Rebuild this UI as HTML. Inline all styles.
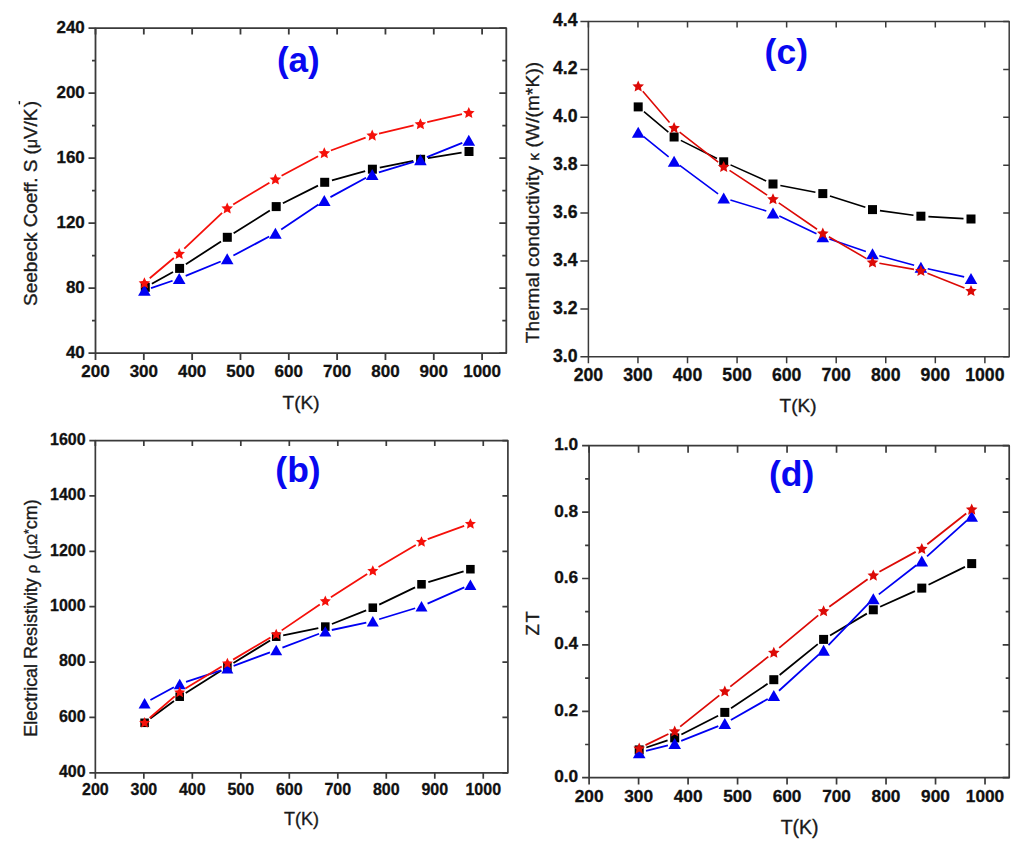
<!DOCTYPE html><html><head><meta charset="utf-8"><style>html,body{margin:0;padding:0;background:#fff}svg{display:block}.t{font-family:"Liberation Sans",sans-serif;font-weight:bold;fill:#111;stroke:#111;stroke-width:0.3px}.a{font-family:"Liberation Sans",sans-serif;fill:#1a1a1a;stroke:#1a1a1a;stroke-width:0.35px}.p{font-family:"Liberation Sans",sans-serif;font-weight:bold;fill:#0808f0}</style></head><body>
<svg width="1024" height="848" viewBox="0 0 1024 848">
<rect width="1024" height="848" fill="#fff"/>
<rect x="95.5" y="28.1" width="410.8" height="325.0" fill="none" stroke="#3a3a3a" stroke-width="1.8" stroke-linejoin="round"/>
<path d="M95.50,353.1v7M95.50,28.1v6.5M143.82,353.1v7M143.82,28.1v6.5M192.15,353.1v7M192.15,28.1v6.5M240.48,353.1v7M240.48,28.1v6.5M288.80,353.1v7M288.80,28.1v6.5M337.12,353.1v7M337.12,28.1v6.5M385.45,353.1v7M385.45,28.1v6.5M433.78,353.1v7M433.78,28.1v6.5M482.10,353.1v7M482.10,28.1v6.5M95.5,353.10h-7M506.3,353.10h-7M95.5,288.10h-7M506.3,288.10h-7M95.5,223.10h-7M506.3,223.10h-7M95.5,158.10h-7M506.3,158.10h-7M95.5,93.10h-7M506.3,93.10h-7M95.5,28.10h-7M506.3,28.10h-7M95.5,320.60h-3.5M506.3,320.60h-4M95.5,255.60h-3.5M506.3,255.60h-4M95.5,190.60h-3.5M506.3,190.60h-4M95.5,125.60h-3.5M506.3,125.60h-4M95.5,60.60h-3.5M506.3,60.60h-4" stroke="#3a3a3a" stroke-width="1.8" fill="none"/>
<text x="95.50" y="377.25" text-anchor="middle" class="t" font-size="17">200</text>
<text x="143.82" y="377.25" text-anchor="middle" class="t" font-size="17">300</text>
<text x="192.15" y="377.25" text-anchor="middle" class="t" font-size="17">400</text>
<text x="240.48" y="377.25" text-anchor="middle" class="t" font-size="17">500</text>
<text x="288.80" y="377.25" text-anchor="middle" class="t" font-size="17">600</text>
<text x="337.12" y="377.25" text-anchor="middle" class="t" font-size="17">700</text>
<text x="385.45" y="377.25" text-anchor="middle" class="t" font-size="17">800</text>
<text x="433.78" y="377.25" text-anchor="middle" class="t" font-size="17">900</text>
<text x="482.10" y="377.25" text-anchor="middle" class="t" font-size="17">1000</text>
<text x="84.8" y="357.85" text-anchor="end" class="t" font-size="17">40</text>
<text x="84.8" y="292.85" text-anchor="end" class="t" font-size="17">80</text>
<text x="84.8" y="227.85" text-anchor="end" class="t" font-size="17">120</text>
<text x="84.8" y="162.85" text-anchor="end" class="t" font-size="17">160</text>
<text x="84.8" y="97.85" text-anchor="end" class="t" font-size="17">200</text>
<text x="84.8" y="32.85" text-anchor="end" class="t" font-size="17">240</text>
<text x="301" y="408.6" text-anchor="middle" class="a" font-size="19">T(K)</text>
<text transform="translate(36.6,305.9) rotate(-90)" class="a" font-size="19" textLength="205.0" lengthAdjust="spacing">Seebeck Coeff. S (<tspan font-size="16">μ</tspan>V/K<tspan dx="1.5">)</tspan></text>
<path d="M19.4,101.6v2.2" stroke="#1a1a1a" stroke-width="1.4" stroke-linecap="round"/>
<text x="298.3" y="71.6" text-anchor="middle" class="p" font-size="35">(a)</text>
<path d="M151.87,283.68L173.03,272.02M185.88,264.30L221.02,241.40M233.65,233.31L269.85,210.59M282.91,203.24L317.99,185.66M331.93,180.31L365.17,171.19M379.75,167.69L413.25,160.81M428.00,158.11L461.60,152.69" stroke="#000" stroke-width="1.8" fill="none"/>
<path d="M151.03,288.05L172.57,280.75M185.68,275.84L220.72,261.46M233.39,255.53L269.21,236.57M281.21,229.40L318.49,204.40M330.45,197.15L366.05,177.75M378.90,172.37L413.70,161.83M426.89,157.17L462.31,142.83" stroke="#0000f2" stroke-width="1.8" fill="none"/>
<path d="M149.75,278.29L173.85,258.01M184.28,248.68L222.12,212.82M233.20,204.40L269.40,182.70M281.57,175.79L318.13,156.21M330.87,150.47L365.63,137.63M379.01,133.59L413.59,125.41M427.22,122.22L461.98,114.18" stroke="#f5100a" stroke-width="1.8" fill="none"/>
<rect x="140.80" y="282.80" width="9.0" height="9.0" fill="#000"/>
<rect x="175.10" y="263.90" width="9.0" height="9.0" fill="#000"/>
<rect x="222.80" y="232.80" width="9.0" height="9.0" fill="#000"/>
<rect x="271.70" y="202.10" width="9.0" height="9.0" fill="#000"/>
<rect x="320.20" y="177.80" width="9.0" height="9.0" fill="#000"/>
<rect x="367.90" y="164.70" width="9.0" height="9.0" fill="#000"/>
<rect x="416.10" y="154.80" width="9.0" height="9.0" fill="#000"/>
<rect x="464.50" y="147.00" width="9.0" height="9.0" fill="#000"/>
<polygon points="144.40,284.80 150.70,295.80 138.10,295.80" fill="#0000f2"/>
<polygon points="179.20,273.00 185.50,284.00 172.90,284.00" fill="#0000f2"/>
<polygon points="227.20,253.30 233.50,264.30 220.90,264.30" fill="#0000f2"/>
<polygon points="275.40,227.80 281.70,238.80 269.10,238.80" fill="#0000f2"/>
<polygon points="324.30,195.00 330.60,206.00 318.00,206.00" fill="#0000f2"/>
<polygon points="372.20,168.90 378.50,179.90 365.90,179.90" fill="#0000f2"/>
<polygon points="420.40,154.30 426.70,165.30 414.10,165.30" fill="#0000f2"/>
<polygon points="468.80,134.70 475.10,145.70 462.50,145.70" fill="#0000f2"/>
<polygon points="144.40,277.20 146.10,280.95 150.20,281.41 147.16,284.20 147.99,288.24 144.40,286.20 140.81,288.24 141.64,284.20 138.60,281.41 142.70,280.95" fill="#f5100a"/>
<polygon points="179.20,247.90 180.90,251.65 185.00,252.11 181.96,254.90 182.79,258.94 179.20,256.90 175.61,258.94 176.44,254.90 173.40,252.11 177.50,251.65" fill="#f5100a"/>
<polygon points="227.20,202.40 228.90,206.15 233.00,206.61 229.96,209.40 230.79,213.44 227.20,211.40 223.61,213.44 224.44,209.40 221.40,206.61 225.50,206.15" fill="#f5100a"/>
<polygon points="275.40,173.50 277.10,177.25 281.20,177.71 278.16,180.50 278.99,184.54 275.40,182.50 271.81,184.54 272.64,180.50 269.60,177.71 273.70,177.25" fill="#f5100a"/>
<polygon points="324.30,147.30 326.00,151.05 330.10,151.51 327.06,154.30 327.89,158.34 324.30,156.30 320.71,158.34 321.54,154.30 318.50,151.51 322.60,151.05" fill="#f5100a"/>
<polygon points="372.20,129.60 373.90,133.35 378.00,133.81 374.96,136.60 375.79,140.64 372.20,138.60 368.61,140.64 369.44,136.60 366.40,133.81 370.50,133.35" fill="#f5100a"/>
<polygon points="420.40,118.20 422.10,121.95 426.20,122.41 423.16,125.20 423.99,129.24 420.40,127.20 416.81,129.24 417.64,125.20 414.60,122.41 418.70,121.95" fill="#f5100a"/>
<polygon points="468.80,107.00 470.50,110.75 474.60,111.21 471.56,114.00 472.39,118.04 468.80,116.00 465.21,118.04 466.04,114.00 463.00,111.21 467.10,110.75" fill="#f5100a"/>
<rect x="95.35" y="440.6" width="412.54999999999995" height="332.19999999999993" fill="none" stroke="#3a3a3a" stroke-width="1.7" stroke-linejoin="round"/>
<path d="M95.35,772.8v6M95.35,440.6v5.5M143.84,772.8v6M143.84,440.6v5.5M192.33,772.8v6M192.33,440.6v5.5M240.82,772.8v6M240.82,440.6v5.5M289.31,772.8v6M289.31,440.6v5.5M337.80,772.8v6M337.80,440.6v5.5M386.29,772.8v6M386.29,440.6v5.5M434.78,772.8v6M434.78,440.6v5.5M483.27,772.8v6M483.27,440.6v5.5M95.35,772.80h-6M507.9,772.80h-5.5M95.35,717.43h-6M507.9,717.43h-5.5M95.35,662.07h-6M507.9,662.07h-5.5M95.35,606.70h-6M507.9,606.70h-5.5M95.35,551.33h-6M507.9,551.33h-5.5M95.35,495.97h-6M507.9,495.97h-5.5M95.35,440.60h-6M507.9,440.60h-5.5" stroke="#3a3a3a" stroke-width="1.7" fill="none"/>
<text x="95.35" y="795.1" text-anchor="middle" class="t" font-size="16">200</text>
<text x="143.84" y="795.1" text-anchor="middle" class="t" font-size="16">300</text>
<text x="192.33" y="795.1" text-anchor="middle" class="t" font-size="16">400</text>
<text x="240.82" y="795.1" text-anchor="middle" class="t" font-size="16">500</text>
<text x="289.31" y="795.1" text-anchor="middle" class="t" font-size="16">600</text>
<text x="337.80" y="795.1" text-anchor="middle" class="t" font-size="16">700</text>
<text x="386.29" y="795.1" text-anchor="middle" class="t" font-size="16">800</text>
<text x="434.78" y="795.1" text-anchor="middle" class="t" font-size="16">900</text>
<text x="483.27" y="795.1" text-anchor="middle" class="t" font-size="16">1000</text>
<text x="85.6" y="777.10" text-anchor="end" class="t" font-size="16">400</text>
<text x="85.6" y="721.73" text-anchor="end" class="t" font-size="16">600</text>
<text x="85.6" y="666.37" text-anchor="end" class="t" font-size="16">800</text>
<text x="85.6" y="611.00" text-anchor="end" class="t" font-size="16">1000</text>
<text x="85.6" y="555.63" text-anchor="end" class="t" font-size="16">1200</text>
<text x="85.6" y="500.27" text-anchor="end" class="t" font-size="16">1400</text>
<text x="85.6" y="444.90" text-anchor="end" class="t" font-size="16">1600</text>
<text x="301.5" y="824.5" text-anchor="middle" class="a" font-size="18">T(K)</text>
<text transform="translate(37.0,736.7) rotate(-90)" class="a" font-size="18" textLength="237.4" lengthAdjust="spacing">Electrical Resistivity <tspan font-size="15">ρ</tspan> (<tspan font-size="15">μΩ</tspan><tspan font-size="12" dy="-4">*</tspan><tspan dy="4">cm)</tspan></text>
<text x="298" y="482" text-anchor="middle" class="p" font-size="35.5">(b)</text>
<path d="M150.32,718.55L173.98,700.95M185.74,692.92L221.36,670.58M233.46,663.06L270.14,640.44M283.18,635.26L318.32,628.04M331.92,623.97L366.18,610.33M379.22,604.61L415.08,587.39M428.31,582.20L463.59,571.30" stroke="#000" stroke-width="1.8" fill="none"/>
<path d="M150.43,700.01L173.87,687.19M186.01,681.91L221.09,670.29M233.63,665.88L269.97,652.32M282.42,647.64L319.08,633.76M331.80,630.00L366.30,622.60M379.16,619.25L415.14,608.25M427.58,603.61L464.32,587.39" stroke="#0000f2" stroke-width="1.8" fill="none"/>
<path d="M149.63,718.05L174.67,696.35M185.38,688.55L221.72,666.45M233.12,659.61L270.48,637.49M281.70,630.37L319.80,604.53M330.91,597.22L367.19,574.08M378.51,567.10L415.79,544.90M427.74,539.20L464.16,525.80" stroke="#f5100a" stroke-width="1.8" fill="none"/>
<rect x="140.32" y="718.52" width="8.549999999999999" height="8.549999999999999" fill="#000"/>
<rect x="175.42" y="692.43" width="8.549999999999999" height="8.549999999999999" fill="#000"/>
<rect x="223.12" y="662.52" width="8.549999999999999" height="8.549999999999999" fill="#000"/>
<rect x="271.93" y="632.43" width="8.549999999999999" height="8.549999999999999" fill="#000"/>
<rect x="321.03" y="622.33" width="8.549999999999999" height="8.549999999999999" fill="#000"/>
<rect x="368.53" y="603.43" width="8.549999999999999" height="8.549999999999999" fill="#000"/>
<rect x="417.23" y="580.02" width="8.549999999999999" height="8.549999999999999" fill="#000"/>
<rect x="466.12" y="564.93" width="8.549999999999999" height="8.549999999999999" fill="#000"/>
<polygon points="144.60,697.98 150.58,708.43 138.62,708.43" fill="#0000f2"/>
<polygon points="179.70,678.77 185.69,689.23 173.71,689.23" fill="#0000f2"/>
<polygon points="227.40,662.98 233.38,673.43 221.42,673.43" fill="#0000f2"/>
<polygon points="276.20,644.77 282.19,655.23 270.21,655.23" fill="#0000f2"/>
<polygon points="325.30,626.17 331.29,636.62 319.31,636.62" fill="#0000f2"/>
<polygon points="372.80,615.98 378.79,626.43 366.81,626.43" fill="#0000f2"/>
<polygon points="421.50,601.07 427.49,611.52 415.51,611.52" fill="#0000f2"/>
<polygon points="470.40,579.48 476.38,589.93 464.41,589.93" fill="#0000f2"/>
<polygon points="144.60,717.11 146.22,720.67 150.11,721.11 147.22,723.75 148.01,727.59 144.60,725.65 141.19,727.59 141.98,723.75 139.09,721.11 142.98,720.67" fill="#f5100a"/>
<polygon points="179.70,686.71 181.32,690.27 185.21,690.71 182.32,693.35 183.11,697.19 179.70,695.25 176.29,697.19 177.08,693.35 174.19,690.71 178.08,690.27" fill="#f5100a"/>
<polygon points="227.40,657.71 229.02,661.27 232.91,661.71 230.02,664.35 230.81,668.19 227.40,666.25 223.99,668.19 224.78,664.35 221.89,661.71 225.78,661.27" fill="#f5100a"/>
<polygon points="276.20,628.81 277.82,632.37 281.71,632.81 278.82,635.45 279.61,639.29 276.20,637.36 272.79,639.29 273.58,635.45 270.69,632.81 274.58,632.37" fill="#f5100a"/>
<polygon points="325.30,595.50 326.92,599.07 330.81,599.51 327.92,602.15 328.71,605.99 325.30,604.05 321.89,605.99 322.68,602.15 319.79,599.51 323.68,599.07" fill="#f5100a"/>
<polygon points="372.80,565.21 374.42,568.77 378.31,569.21 375.42,571.85 376.21,575.69 372.80,573.75 369.39,575.69 370.18,571.85 367.29,569.21 371.18,568.77" fill="#f5100a"/>
<polygon points="421.50,536.21 423.12,539.77 427.01,540.21 424.12,542.85 424.91,546.69 421.50,544.75 418.09,546.69 418.88,542.85 415.99,540.21 419.88,539.77" fill="#f5100a"/>
<polygon points="470.40,518.21 472.02,521.77 475.91,522.21 473.02,524.85 473.81,528.69 470.40,526.75 466.99,528.69 467.78,524.85 464.89,522.21 468.78,521.77" fill="#f5100a"/>
<rect x="588.4" y="21.5" width="420.80000000000007" height="335.3" fill="none" stroke="#3a3a3a" stroke-width="1.5" stroke-linejoin="round"/>
<path d="M588.40,356.8v6.5M588.40,21.5v6M637.96,356.8v6.5M637.96,21.5v6M687.52,356.8v6.5M687.52,21.5v6M737.08,356.8v6.5M737.08,21.5v6M786.64,356.8v6.5M786.64,21.5v6M836.20,356.8v6.5M836.20,21.5v6M885.76,356.8v6.5M885.76,21.5v6M935.32,356.8v6.5M935.32,21.5v6M984.88,356.8v6.5M984.88,21.5v6M588.4,356.80h-8M1009.2,356.80h-6M588.4,308.90h-8M1009.2,308.90h-6M588.4,261.00h-8M1009.2,261.00h-6M588.4,213.10h-8M1009.2,213.10h-6M588.4,165.20h-8M1009.2,165.20h-6M588.4,117.30h-8M1009.2,117.30h-6M588.4,69.40h-8M1009.2,69.40h-6M588.4,21.50h-8M1009.2,21.50h-6" stroke="#3a3a3a" stroke-width="1.5" fill="none"/>
<text x="588.40" y="380.9" text-anchor="middle" class="t" font-size="17.7">200</text>
<text x="637.96" y="380.9" text-anchor="middle" class="t" font-size="17.7">300</text>
<text x="687.52" y="380.9" text-anchor="middle" class="t" font-size="17.7">400</text>
<text x="737.08" y="380.9" text-anchor="middle" class="t" font-size="17.7">500</text>
<text x="786.64" y="380.9" text-anchor="middle" class="t" font-size="17.7">600</text>
<text x="836.20" y="380.9" text-anchor="middle" class="t" font-size="17.7">700</text>
<text x="885.76" y="380.9" text-anchor="middle" class="t" font-size="17.7">800</text>
<text x="935.32" y="380.9" text-anchor="middle" class="t" font-size="17.7">900</text>
<text x="984.88" y="380.9" text-anchor="middle" class="t" font-size="17.7">1000</text>
<text x="577.5" y="361.50" text-anchor="end" class="t" font-size="17.7">3.0</text>
<text x="577.5" y="313.60" text-anchor="end" class="t" font-size="17.7">3.2</text>
<text x="577.5" y="265.70" text-anchor="end" class="t" font-size="17.7">3.4</text>
<text x="577.5" y="217.80" text-anchor="end" class="t" font-size="17.7">3.6</text>
<text x="577.5" y="169.90" text-anchor="end" class="t" font-size="17.7">3.8</text>
<text x="577.5" y="122.00" text-anchor="end" class="t" font-size="17.7">4.0</text>
<text x="577.5" y="74.10" text-anchor="end" class="t" font-size="17.7">4.2</text>
<text x="577.5" y="26.20" text-anchor="end" class="t" font-size="17.7">4.4</text>
<text x="798" y="412.2" text-anchor="middle" class="a" font-size="19">T(K)</text>
<text transform="translate(538.5,343.2) rotate(-90)" class="a" font-size="19" textLength="281.4" lengthAdjust="spacing">Thermal conductivity <tspan font-size="15">κ</tspan> (W/(m*K))</text>
<text x="786.3" y="64.2" text-anchor="middle" class="p" font-size="35.5">(c)</text>
<path d="M643.95,111.72L668.35,132.18M680.81,140.35L716.99,158.45M730.54,164.88L766.16,180.92M780.36,185.42L815.44,192.18M829.94,195.90L865.36,207.30M879.93,210.61L913.47,215.19M928.39,216.62L963.51,218.58" stroke="#000" stroke-width="1.6" fill="none"/>
<path d="M643.65,136.60L668.65,156.80M679.72,165.37L718.08,193.83M730.40,200.04L766.30,210.96M779.32,216.01L816.48,233.69M829.42,238.98L865.88,251.52M879.25,255.67L914.15,265.33M927.73,268.73L964.17,276.87" stroke="#0000f2" stroke-width="1.6" fill="none"/>
<path d="M642.77,91.30L669.53,122.40M679.61,132.01L718.19,162.19M729.55,170.34L767.15,195.06M778.76,202.87L817.04,229.23M828.85,236.72L866.45,258.58M879.39,263.31L914.01,269.39M927.40,273.20L964.50,288.00" stroke="#dc0a06" stroke-width="1.6" fill="none"/>
<rect x="633.70" y="102.40" width="9.0" height="9.0" fill="#000"/>
<rect x="669.60" y="132.50" width="9.0" height="9.0" fill="#000"/>
<rect x="719.20" y="157.30" width="9.0" height="9.0" fill="#000"/>
<rect x="768.50" y="179.50" width="9.0" height="9.0" fill="#000"/>
<rect x="818.30" y="189.10" width="9.0" height="9.0" fill="#000"/>
<rect x="868.00" y="205.10" width="9.0" height="9.0" fill="#000"/>
<rect x="916.40" y="211.70" width="9.0" height="9.0" fill="#000"/>
<rect x="966.50" y="214.50" width="9.0" height="9.0" fill="#000"/>
<polygon points="638.20,126.70 644.50,137.70 631.90,137.70" fill="#0000f2"/>
<polygon points="674.10,155.70 680.40,166.70 667.80,166.70" fill="#0000f2"/>
<polygon points="723.70,192.50 730.00,203.50 717.40,203.50" fill="#0000f2"/>
<polygon points="773.00,207.50 779.30,218.50 766.70,218.50" fill="#0000f2"/>
<polygon points="822.80,231.20 829.10,242.20 816.50,242.20" fill="#0000f2"/>
<polygon points="872.50,248.30 878.80,259.30 866.20,259.30" fill="#0000f2"/>
<polygon points="920.90,261.70 927.20,272.70 914.60,272.70" fill="#0000f2"/>
<polygon points="971.00,272.90 977.30,283.90 964.70,283.90" fill="#0000f2"/>
<polygon points="638.20,80.40 639.90,84.15 644.00,84.61 640.96,87.40 641.79,91.44 638.20,89.40 634.61,91.44 635.44,87.40 632.40,84.61 636.50,84.15" fill="#dc0a06"/>
<polygon points="674.10,122.10 675.80,125.85 679.90,126.31 676.86,129.10 677.69,133.14 674.10,131.10 670.51,133.14 671.34,129.10 668.30,126.31 672.40,125.85" fill="#dc0a06"/>
<polygon points="723.70,160.90 725.40,164.65 729.50,165.11 726.46,167.90 727.29,171.94 723.70,169.90 720.11,171.94 720.94,167.90 717.90,165.11 722.00,164.65" fill="#dc0a06"/>
<polygon points="773.00,193.30 774.70,197.05 778.80,197.51 775.76,200.30 776.59,204.34 773.00,202.30 769.41,204.34 770.24,200.30 767.20,197.51 771.30,197.05" fill="#dc0a06"/>
<polygon points="822.80,227.60 824.50,231.35 828.60,231.81 825.56,234.60 826.39,238.64 822.80,236.60 819.21,238.64 820.04,234.60 817.00,231.81 821.10,231.35" fill="#dc0a06"/>
<polygon points="872.50,256.50 874.20,260.25 878.30,260.71 875.26,263.50 876.09,267.54 872.50,265.50 868.91,267.54 869.74,263.50 866.70,260.71 870.80,260.25" fill="#dc0a06"/>
<polygon points="920.90,265.00 922.60,268.75 926.70,269.21 923.66,272.00 924.49,276.04 920.90,274.00 917.31,276.04 918.14,272.00 915.10,269.21 919.20,268.75" fill="#dc0a06"/>
<polygon points="971.00,285.00 972.70,288.75 976.80,289.21 973.76,292.00 974.59,296.04 971.00,294.00 967.41,296.04 968.24,292.00 965.20,289.21 969.30,288.75" fill="#dc0a06"/>
<rect x="589.1" y="445.7" width="420.1" height="332.00000000000006" fill="none" stroke="#3a3a3a" stroke-width="1.7" stroke-linejoin="round"/>
<path d="M589.10,777.7v6.8M589.10,445.7v7M638.59,777.7v6.8M638.59,445.7v7M688.08,777.7v6.8M688.08,445.7v7M737.57,777.7v6.8M737.57,445.7v7M787.06,777.7v6.8M787.06,445.7v7M836.55,777.7v6.8M836.55,445.7v7M886.04,777.7v6.8M886.04,445.7v7M935.53,777.7v6.8M935.53,445.7v7M985.02,777.7v6.8M985.02,445.7v7M589.1,777.70h-7M1009.2,777.70h-6.5M589.1,711.30h-7M1009.2,711.30h-6.5M589.1,644.90h-7M1009.2,644.90h-6.5M589.1,578.50h-7M1009.2,578.50h-6.5M589.1,512.10h-7M1009.2,512.10h-6.5M589.1,445.70h-7M1009.2,445.70h-6.5M589.1,744.50h-4M1009.2,744.50h-3.5M589.1,678.10h-4M1009.2,678.10h-3.5M589.1,611.70h-4M1009.2,611.70h-3.5M589.1,545.30h-4M1009.2,545.30h-3.5M589.1,478.90h-4M1009.2,478.90h-3.5" stroke="#3a3a3a" stroke-width="1.7" fill="none"/>
<text x="589.10" y="802.35" text-anchor="middle" class="t" font-size="17.3">200</text>
<text x="638.59" y="802.35" text-anchor="middle" class="t" font-size="17.3">300</text>
<text x="688.08" y="802.35" text-anchor="middle" class="t" font-size="17.3">400</text>
<text x="737.57" y="802.35" text-anchor="middle" class="t" font-size="17.3">500</text>
<text x="787.06" y="802.35" text-anchor="middle" class="t" font-size="17.3">600</text>
<text x="836.55" y="802.35" text-anchor="middle" class="t" font-size="17.3">700</text>
<text x="886.04" y="802.35" text-anchor="middle" class="t" font-size="17.3">800</text>
<text x="935.53" y="802.35" text-anchor="middle" class="t" font-size="17.3">900</text>
<text x="985.02" y="802.35" text-anchor="middle" class="t" font-size="17.3">1000</text>
<text x="578.2" y="782.20" text-anchor="end" class="t" font-size="17.3">0.0</text>
<text x="578.2" y="715.80" text-anchor="end" class="t" font-size="17.3">0.2</text>
<text x="578.2" y="649.40" text-anchor="end" class="t" font-size="17.3">0.4</text>
<text x="578.2" y="583.00" text-anchor="end" class="t" font-size="17.3">0.6</text>
<text x="578.2" y="516.60" text-anchor="end" class="t" font-size="17.3">0.8</text>
<text x="578.2" y="450.20" text-anchor="end" class="t" font-size="17.3">1.0</text>
<text x="799.6" y="834" text-anchor="middle" class="a" font-size="19.5">T(K)</text>
<text transform="translate(539.0,635.5) rotate(-90)" class="a" font-size="18.5" textLength="24.3" lengthAdjust="spacing">ZT</text>
<text x="791.6" y="485.8" text-anchor="middle" class="p" font-size="35.5">(d)</text>
<path d="M646.31,747.50L667.59,740.30M681.38,734.50L718.12,715.80M731.04,708.24L767.56,683.86M779.63,674.98L817.77,644.12M830.04,635.56L866.86,613.64M880.15,606.74L914.95,591.16M928.53,584.79L964.97,566.91" stroke="#000" stroke-width="1.8" fill="none"/>
<path d="M645.98,750.94L667.92,745.26M681.20,740.90L718.30,726.10M730.88,720.03L767.72,698.97M778.98,690.79L818.42,654.91M828.46,645.16L868.44,603.74M878.83,594.40L916.27,565.30M927.01,556.32L966.49,520.88" stroke="#0000f2" stroke-width="1.8" fill="none"/>
<path d="M645.50,745.15L668.40,734.05M680.17,726.63L719.33,695.37M730.29,686.66L768.31,656.64M779.18,647.83L818.22,615.37M829.29,606.82L867.61,579.28M879.43,571.82L915.67,551.88M927.30,544.17L966.20,513.53" stroke="#dc0a06" stroke-width="1.8" fill="none"/>
<rect x="634.70" y="745.40" width="9.0" height="9.0" fill="#000"/>
<rect x="670.20" y="733.40" width="9.0" height="9.0" fill="#000"/>
<rect x="720.30" y="707.90" width="9.0" height="9.0" fill="#000"/>
<rect x="769.30" y="675.20" width="9.0" height="9.0" fill="#000"/>
<rect x="819.10" y="634.90" width="9.0" height="9.0" fill="#000"/>
<rect x="868.80" y="605.30" width="9.0" height="9.0" fill="#000"/>
<rect x="917.30" y="583.60" width="9.0" height="9.0" fill="#000"/>
<rect x="967.20" y="559.10" width="9.0" height="9.0" fill="#000"/>
<polygon points="639.20,747.20 645.50,758.20 632.90,758.20" fill="#0000f2"/>
<polygon points="674.70,738.00 681.00,749.00 668.40,749.00" fill="#0000f2"/>
<polygon points="724.80,718.00 731.10,729.00 718.50,729.00" fill="#0000f2"/>
<polygon points="773.80,690.00 780.10,701.00 767.50,701.00" fill="#0000f2"/>
<polygon points="823.60,644.70 829.90,655.70 817.30,655.70" fill="#0000f2"/>
<polygon points="873.30,593.20 879.60,604.20 867.00,604.20" fill="#0000f2"/>
<polygon points="921.80,555.50 928.10,566.50 915.50,566.50" fill="#0000f2"/>
<polygon points="971.70,510.70 978.00,521.70 965.40,521.70" fill="#0000f2"/>
<polygon points="639.20,742.60 640.90,746.35 645.00,746.81 641.96,749.60 642.79,753.64 639.20,751.60 635.61,753.64 636.44,749.60 633.40,746.81 637.50,746.35" fill="#dc0a06"/>
<polygon points="674.70,725.40 676.40,729.15 680.50,729.61 677.46,732.40 678.29,736.44 674.70,734.40 671.11,736.44 671.94,732.40 668.90,729.61 673.00,729.15" fill="#dc0a06"/>
<polygon points="724.80,685.40 726.50,689.15 730.60,689.61 727.56,692.40 728.39,696.44 724.80,694.40 721.21,696.44 722.04,692.40 719.00,689.61 723.10,689.15" fill="#dc0a06"/>
<polygon points="773.80,646.70 775.50,650.45 779.60,650.91 776.56,653.70 777.39,657.74 773.80,655.70 770.21,657.74 771.04,653.70 768.00,650.91 772.10,650.45" fill="#dc0a06"/>
<polygon points="823.60,605.30 825.30,609.05 829.40,609.51 826.36,612.30 827.19,616.34 823.60,614.30 820.01,616.34 820.84,612.30 817.80,609.51 821.90,609.05" fill="#dc0a06"/>
<polygon points="873.30,569.60 875.00,573.35 879.10,573.81 876.06,576.60 876.89,580.64 873.30,578.60 869.71,580.64 870.54,576.60 867.50,573.81 871.60,573.35" fill="#dc0a06"/>
<polygon points="921.80,542.90 923.50,546.65 927.60,547.11 924.56,549.90 925.39,553.94 921.80,551.90 918.21,553.94 919.04,549.90 916.00,547.11 920.10,546.65" fill="#dc0a06"/>
<polygon points="971.70,503.60 973.40,507.35 977.50,507.81 974.46,510.60 975.29,514.64 971.70,512.60 968.11,514.64 968.94,510.60 965.90,507.81 970.00,507.35" fill="#dc0a06"/>
</svg></body></html>
